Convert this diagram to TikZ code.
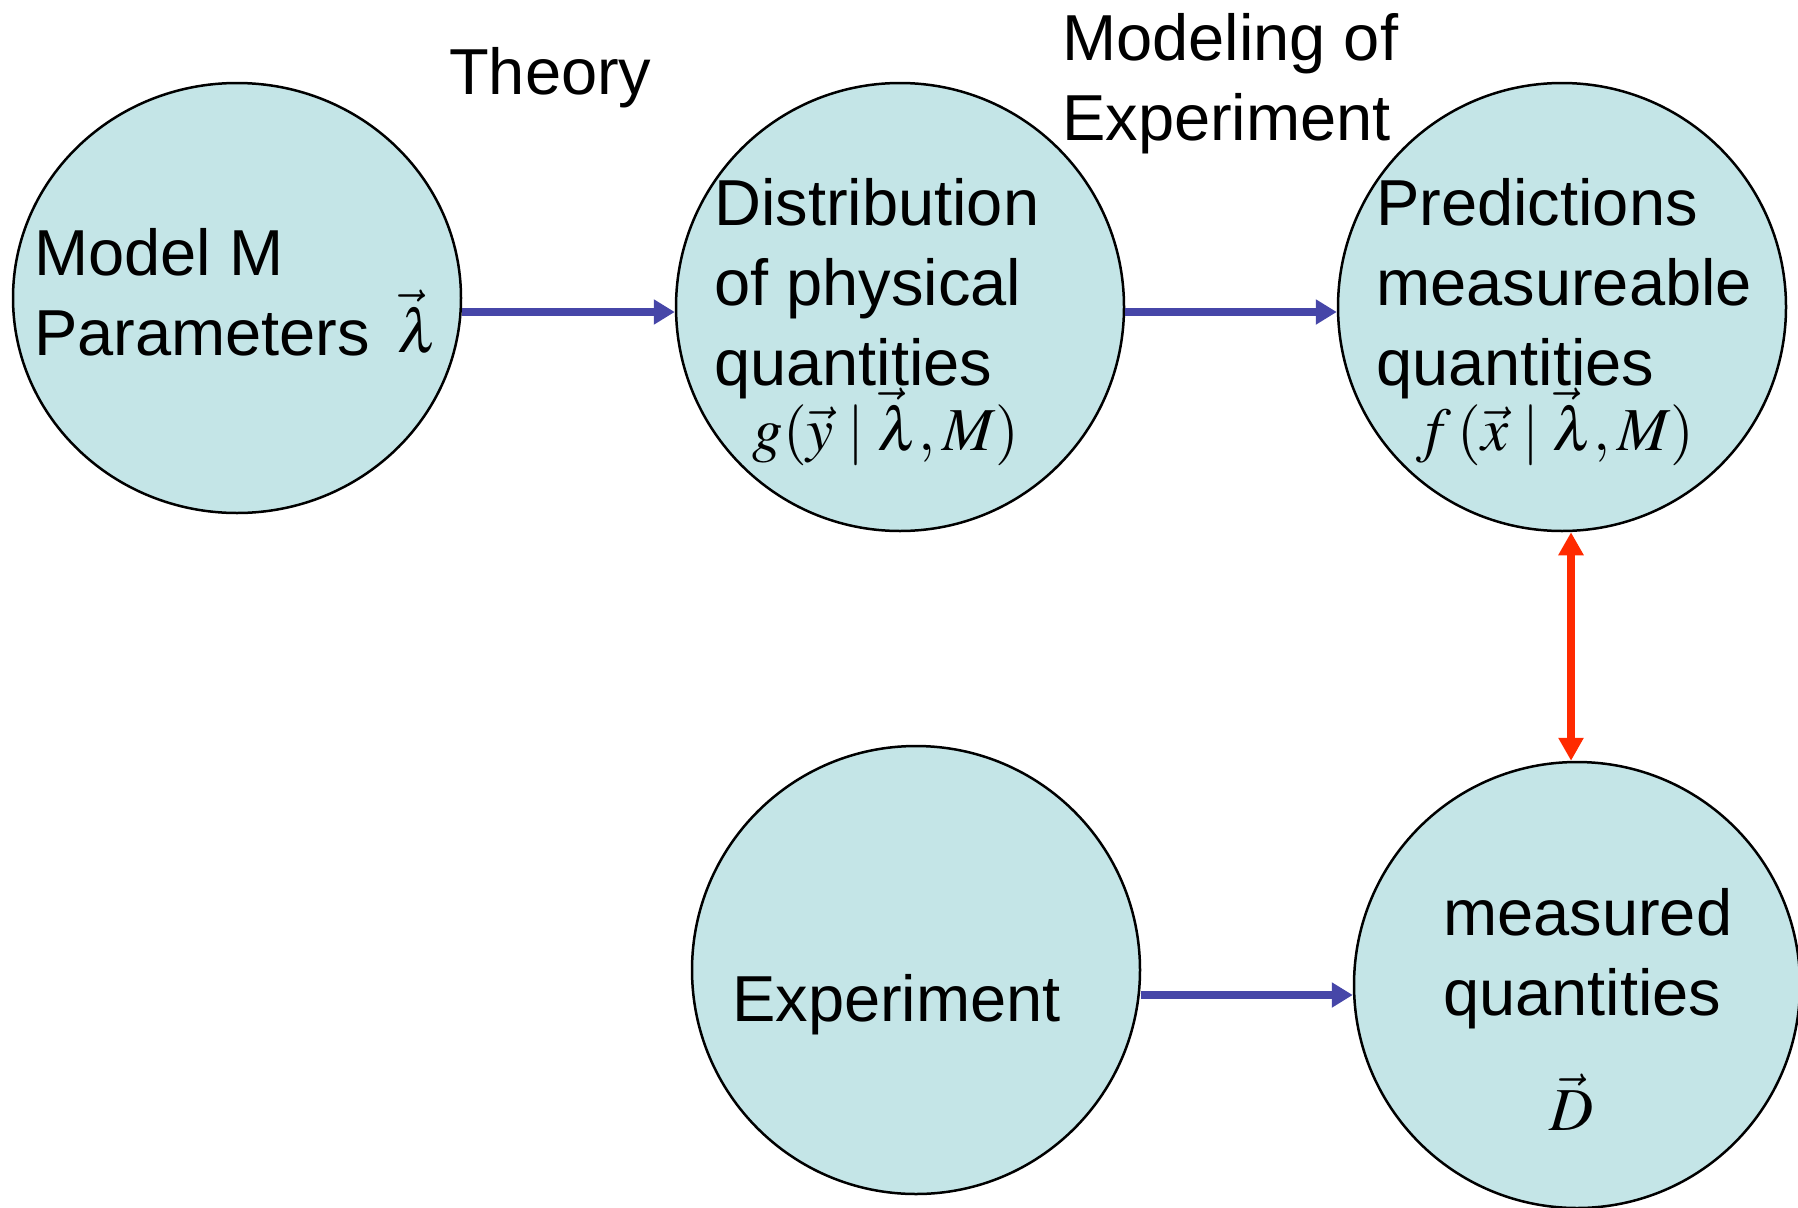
\documentclass[tikz,border=0pt]{standalone}
\usepackage{mathptmx}
\usepackage{fontspec}
\setmainfont{Liberation Sans}
\usetikzlibrary{arrows.meta,shapes.geometric}
\definecolor{blobfill}{HTML}{C4E5E7}
\definecolor{linkblue}{HTML}{4646A8}
\definecolor{matchred}{HTML}{FF2A00}

\begin{document}
\begin{tikzpicture}[x=1pt, y=-1pt,
  blob/.style={draw, line width=2.5pt, fill=blobfill, ellipse, inner sep=0pt},
  txt/.style={anchor=base west, inner sep=0pt, align=left, font=\fontsize{65}{80}\selectfont},
  eq/.style={anchor=base, inner sep=0pt, font=\fontsize{61}{72}\selectfont},
  link/.style={draw=linkblue, line width=8pt, -{Triangle[length=21pt,width=24pt]}},
  match/.style={draw=matchred, line width=8pt, {Triangle[length=23pt,width=24pt]}-{Triangle[length=23pt,width=24pt]}}]
  \useasboundingbox (0,0) rectangle (1798,1207);
  % the five stages
  \node[blob, minimum width=448pt, minimum height=430pt] (model)      at (237,298)  {};
  \node[blob, minimum width=448pt, minimum height=448pt] (distrib)    at (900,307)  {};
  \node[blob, minimum width=448pt, minimum height=448pt] (predict)    at (1562,307) {};
  \node[blob, minimum width=448pt, minimum height=448pt] (experiment) at (916,970)  {};
  \node[blob, minimum width=446pt, minimum height=446pt] (measured)   at (1577,985) {};
  % headings (base = last line)
  \node[txt] (theory) at (449,94)   {Theory};
  \node[txt] (modexp) at (1062,140) {Modeling of\\Experiment};
  % texts inside
  \node[txt] (modeltxt) at (34,355)    {Model M\\Parameters};
  \node[eq]  (lam)      at (418,352)   {$\vec{\lambda}$};
  \node[txt] (distxt)   at (714,385)   {Distribution\\of physical\\quantities};
  \node[eq]  (geq)      at (886,450)   {$g(\vec{y}\;|\;\vec{\lambda},M)$};
  \node[txt] (predtxt)  at (1376,385)  {Predictions\\measureable\\quantities};
  \node[eq]  (feq)      at (1555,450)  {$f\,(\vec{x}\;|\;\vec{\lambda},M)$};
  \node[txt] (exptxt)   at (732,1021)  {Experiment};
  \node[txt] (meastxt)  at (1443,1015) {measured\\quantities};
  \node[eq]  (deq)      at (1571,1130) {$\vec{D}$};
  % connectors
  \draw[link] ([yshift=-14pt]model.east) -- ([yshift=-5pt]distrib.west);
  \draw[link] ([yshift=-5pt]distrib.east) -- ([yshift=-5pt]predict.west);
  \draw[link] ([yshift=-25pt]experiment.east) -- ([yshift=-10pt]measured.west);
  \draw[match] ([xshift=9pt]predict.south) -- ([xshift=-6pt]measured.north);
\end{tikzpicture}
\end{document}
